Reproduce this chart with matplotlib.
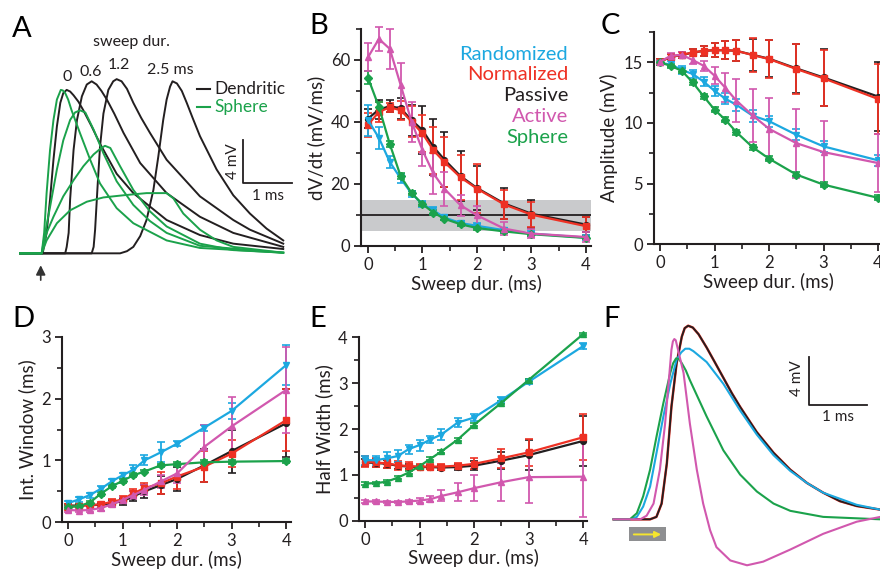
import matplotlib
matplotlib.use("Agg")
import matplotlib.pyplot as plt
from matplotlib.patches import Rectangle
from matplotlib.ticker import MultipleLocator

plt.rcParams['font.family'] = ['Lato', 'DejaVu Sans']

W, H = 880, 573
DARK = '#231F20'
CYAN = '#1CA8E0'
RED = '#EE3124'
MAG = '#D158AE'
GREEN = '#1BA24B'

# sweep durations (ms)
sweep = [0, 0.2, 0.4, 0.6, 0.8, 1.0, 1.2, 1.4, 1.7, 2.0, 2.5, 3.0, 4.0]

# B: dV/dt (mV/ms)
b_rand = [40.6, 34.9, 27.1, 21.8, 16.9, 13.5, 11.5, 9.2, 7.4, 6.5, 5.1, 4.0, 2.7]
b_rand_err = [5, 3.5, 2, 1.5, 1, 1, 1.2, 0.8, 0.8, 0.8, 0.8, 0.8, 0.8]
b_norm = [39.0, 43.3, 44.7, 43.8, 40.1, 36.3, 30.9, 27.1, 22.1, 18.5, 13.4, 10.1, 6.4]
b_norm_err = [3.8, 3.2, 1.5, 3, 5, 6, 7.6, 8, 7.2, 8, 4.8, 4, 3]
b_pass = [41.1, 44.0, 45.1, 44.4, 40.6, 37.4, 32.0, 27.9, 22.5, 18.7, 13.7, 10.4, 6.9]
b_pass_err = [3, 3, 2, 3.5, 5, 7.7, 9, 9, 8, 7, 5, 4.6, 2.5]
b_act = [60.9, 66.8, 63.6, 51.9, 40.1, 30.9, 23.4, 18.5, 13.1, 9.9, 5.6, 4.0, 2.9]
b_act_err = [4.5, 4, 6.5, 7, 6.5, 5, 6.5, 5.5, 3.5, 3, 2, 1.5, 1.5]
b_sph = [54.3, 44.9, 32.9, 22.5, 17.1, 13.5, 10.8, 8.8, 7.0, 5.8, 4.7, 3.8, 2.6]
b_sph_err = [2, 1.5, 1, 1, 0.8, 0.7, 0.7, 0.5, 0.5, 0.5, 0.5, 0.5, 0.5]

# C: amplitude (mV)
c_rand = [14.94, 14.83, 14.37, 14.04, 13.41, 12.65, 12.0, 11.5, 10.6, 10.15, 9.03, 8.07, 6.92]
c_rand_err = [0.2, 0.25, 0.3, 0.3, 0.35, 0.4, 0.45, 0.5, 0.5, 0.45, 0.45, 0.45, 0.45]
c_norm = [15.05, 15.46, 15.62, 15.81, 15.95, 16.0, 16.0, 15.95, 15.6, 15.27, 14.45, 13.68, 11.98]
c_norm_err = [0.2, 0.2, 0.25, 0.3, 0.4, 0.6, 0.75, 0.85, 1.4, 1.6, 2.1, 2.3, 2.9]
c_pass = [15.05, 15.45, 15.6, 15.8, 15.95, 16.0, 16.0, 15.95, 15.62, 15.3, 14.5, 13.75, 12.18]
c_pass_err = [0.2, 0.2, 0.25, 0.3, 0.4, 0.6, 0.75, 0.85, 1.3, 1.55, 2.05, 2.35, 2.85]
c_act = [15.05, 15.54, 15.62, 15.19, 14.72, 13.9, 12.89, 11.85, 10.62, 9.52, 8.34, 7.6, 6.7]
c_act_err = [0.15, 0.2, 0.2, 0.3, 0.4, 0.7, 1.2, 1.8, 2.2, 2.5, 2.85, 2.6, 2.4]
c_sph = [15.0, 14.7, 14.3, 13.35, 12.2, 11.1, 10.26, 9.25, 8.0, 7.06, 5.75, 4.92, 3.83]
c_sph_err = [0.2] * 13

# D: integration window (ms)
d_rand = [0.31, 0.37, 0.44, 0.54, 0.66, 0.76, 0.85, 1.0, 1.13, 1.27, 1.53, 1.80, 2.54]
d_rand_err = [0.04, 0.04, 0.04, 0.04, 0.04, 0.04, 0.08, 0.08, 0.16, 0.04, 0.05, 0.13, 0.32]
d_norm = [0.25, 0.26, 0.28, 0.29, 0.33, 0.37, 0.47, 0.55, 0.63, 0.74, 0.9, 1.11, 1.65]
d_norm_err = [0.05, 0.04, 0.04, 0.04, 0.04, 0.05, 0.07, 0.08, 0.18, 0.2, 0.25, 0.22, 0.5]
d_pass = [0.27, 0.27, 0.28, 0.28, 0.31, 0.34, 0.42, 0.5, 0.6, 0.7, 0.92, 1.15, 1.6]
d_pass_err = [0.03, 0.03, 0.03, 0.04, 0.05, 0.06, 0.08, 0.1, 0.15, 0.2, 0.27, 0.35, 0.55]
d_act = [0.2, 0.19, 0.2, 0.23, 0.29, 0.36, 0.44, 0.52, 0.66, 0.79, 1.22, 1.55, 2.14]
d_act_err = [0.04, 0.03, 0.03, 0.04, 0.04, 0.05, 0.07, 0.08, 0.1, 0.15, 0.35, 0.47, 0.7]
d_sph = [0.25, 0.26, 0.32, 0.46, 0.58, 0.67, 0.76, 0.82, 0.92, 0.94, 0.97, 0.98, 0.99]
d_sph_err = [0.03] * 13

# E: half width (ms)
e_rand = [1.32, 1.32, 1.36, 1.41, 1.56, 1.65, 1.77, 1.88, 2.14, 2.25, 2.63, 3.03, 3.81]
e_rand_err = [0.1, 0.1, 0.13, 0.13, 0.1, 0.12, 0.08, 0.12, 0.1, 0.08, 0.06, 0.05, 0.06]
e_norm = [1.29, 1.27, 1.25, 1.21, 1.19, 1.18, 1.18, 1.18, 1.2, 1.24, 1.36, 1.49, 1.82]
e_norm_err = [0.12, 0.1, 0.1, 0.1, 0.08, 0.05, 0.05, 0.05, 0.06, 0.12, 0.2, 0.3, 0.5]
e_pass = [1.27, 1.26, 1.24, 1.2, 1.18, 1.17, 1.17, 1.16, 1.17, 1.2, 1.31, 1.43, 1.74]
e_pass_err = [0.08, 0.08, 0.08, 0.07, 0.06, 0.05, 0.05, 0.05, 0.06, 0.1, 0.18, 0.32, 0.55]
e_act = [0.42, 0.42, 0.41, 0.41, 0.42, 0.44, 0.47, 0.54, 0.62, 0.71, 0.84, 0.95, 0.96]
e_act_err = [0.03, 0.03, 0.03, 0.03, 0.03, 0.05, 0.07, 0.12, 0.2, 0.28, 0.42, 0.57, 0.88]
e_sph = [0.81, 0.82, 0.85, 0.94, 1.05, 1.19, 1.35, 1.51, 1.77, 2.09, 2.57, 3.07, 4.07]
e_sph_err = [0.03] * 13

# A: traces, time (ms) and voltage (mV)
a_t_d0 = [-0.42, 0.04, 0.12, 0.19, 0.26, 0.33, 0.40, 0.46, 0.53, 0.60, 0.67, 0.77, 0.87, 1.04, 1.21, 1.55, 1.89, 2.57, 3.25, 3.93, 4.95]
a_v_d0 = [0, 0, 1.9, 5.0, 8.7, 11.8, 14.0, 14.9, 15.2, 15.05, 14.7, 14.1, 13.3, 11.8, 10.2, 7.4, 5.6, 3.1, 1.7, 0.9, 0.4]
a_t_d06 = [-0.42, 0.50, 0.53, 0.57, 0.60, 0.67, 0.74, 0.84, 0.94, 1.04, 1.14, 1.24, 1.35, 1.50, 1.69, 2.03, 2.57, 3.25, 3.93, 4.95]
a_v_d06 = [0, 0, 0.6, 1.9, 5.0, 9.6, 12.4, 14.6, 15.7, 16.0, 15.7, 15.1, 14.3, 13.0, 11.2, 8.4, 5.6, 3.4, 1.9, 0.6]
a_t_d12 = [-0.42, 1.04, 1.08, 1.11, 1.16, 1.21, 1.28, 1.38, 1.48, 1.55, 1.65, 1.76, 1.89, 2.05, 2.23, 2.57, 3.25, 3.93, 4.27, 4.95]
a_v_d12 = [0, 0, 0.6, 2.2, 6.2, 9.9, 13.0, 15.2, 16.0, 16.2, 16.0, 15.3, 14.0, 12.6, 11.2, 8.7, 5.3, 3.1, 2.2, 0.9]
a_t_d25 = [-0.42, 1.62, 1.76, 1.89, 2.03, 2.16, 2.30, 2.40, 2.50, 2.57, 2.64, 2.69, 2.78, 2.88, 2.98, 3.10, 3.25, 3.59, 3.93, 4.27, 4.61, 4.95]
a_v_d25 = [0, 0, 0.2, 0.6, 1.6, 3.1, 5.9, 9.0, 12.4, 14.3, 15.5, 16.0, 15.8, 15.1, 14.0, 12.6, 10.9, 7.8, 5.4, 3.7, 2.3, 1.2]
a_t_s0 = [-0.42, 0.02, 0.07, 0.12, 0.19, 0.26, 0.33, 0.41, 0.45, 0.50, 0.56, 0.63, 0.80, 1.01, 1.21, 1.55, 1.89, 2.57, 3.25, 4.95]
a_v_s0 = [0, 0, 1.9, 5.6, 9.6, 12.4, 14.3, 15.2, 15.15, 14.9, 14.3, 13.3, 11.2, 8.7, 6.5, 4.2, 2.8, 1.2, 0.5, 0.06]
a_t_s06 = [-0.42, 0.02, 0.09, 0.19, 0.33, 0.46, 0.60, 0.70, 0.80, 0.91, 1.08, 1.28, 1.55, 1.89, 2.23, 2.57, 3.25, 4.95]
a_v_s06 = [0, 0, 1.9, 4.3, 7.8, 10.5, 12.4, 13.1, 13.3, 13.1, 11.5, 9.3, 6.7, 4.5, 3.0, 1.9, 0.7, 0.06]
a_t_s12 = [-0.42, 0.02, 0.12, 0.26, 0.46, 0.67, 0.87, 1.08, 1.21, 1.31, 1.42, 1.62, 1.89, 2.23, 2.57, 3.25, 3.93, 4.95]
a_v_s12 = [0, 0, 1.9, 3.4, 5.3, 6.8, 8.1, 9.2, 9.7, 10.0, 9.8, 8.1, 5.9, 3.9, 2.5, 0.9, 0.3, 0.06]
a_t_s25 = [-0.42, 0.02, 0.12, 0.33, 0.60, 0.94, 1.28, 1.69, 2.16, 2.57, 2.71, 2.91, 3.25, 3.59, 3.93, 4.95]
a_v_s25 = [0, 0, 1.2, 2.8, 4.0, 4.8, 5.2, 5.4, 5.6, 5.6, 5.1, 3.7, 2.2, 1.2, 0.6, 0.06]

# F: traces
f_t_black = [-0.27, 0.36, 0.47, 0.56, 0.65, 0.73, 0.82, 0.91, 0.96, 1.02, 1.10, 1.20, 1.34, 1.48, 1.63, 1.78, 1.92, 2.21, 2.50, 2.79, 3.08, 3.36, 3.65, 3.94, 4.35]
f_v_black = [0, 0, 0.2, 1.3, 4.6, 9.3, 12.9, 15.1, 15.8, 16.0, 15.85, 15.3, 14.2, 13.0, 11.7, 10.4, 9.3, 7.2, 5.5, 4.1, 3.0, 2.2, 1.5, 1.1, 0.8]
f_t_cyan = [-0.27, 0.01, 0.13, 0.24, 0.36, 0.47, 0.59, 0.71, 0.82, 0.90, 0.97, 1.04, 1.11, 1.34, 1.63, 1.92, 2.21, 2.50, 2.79, 3.08, 3.36, 3.94, 4.35]
f_v_cyan = [0, 0, 0.2, 1.05, 2.7, 5.45, 8.5, 11.2, 13.2, 13.8, 14.1, 14.1, 13.9, 13.0, 11.2, 9.0, 7.0, 5.3, 4.0, 3.0, 2.2, 1.2, 0.8]
f_t_green = [-0.27, 0.01, 0.13, 0.24, 0.36, 0.47, 0.59, 0.71, 0.76, 0.81, 0.86, 0.91, 0.98, 1.05, 1.34, 1.63, 1.92, 2.21, 2.50, 2.79, 3.36, 4.35]
f_v_green = [0, 0, 0.5, 1.9, 4.1, 6.8, 9.6, 12.1, 12.9, 13.3, 13.25, 12.9, 12.3, 11.5, 8.5, 5.7, 3.7, 2.3, 1.3, 0.7, 0.2, 0]
f_t_mag = [-0.27, 0.19, 0.30, 0.42, 0.53, 0.62, 0.68, 0.73, 0.755, 0.78, 0.805, 0.83, 0.94, 1.05, 1.17, 1.28, 1.40, 1.51, 1.75, 2.04, 2.32, 2.79, 3.36, 3.94, 4.35]
f_v_mag = [0, 0, 0.3, 1.3, 4.1, 7.9, 11.2, 14.0, 14.7, 14.9, 14.8, 14.3, 12.1, 7.9, 4.1, 1.3, -0.9, -2.3, -3.4, -3.8, -3.5, -2.5, -1.2, -0.2, 0.2]


def box(l, t, r, b):
    return [l / W, 1 - b / H, (r - l) / W, (b - t) / H]


def ftext(x, y, s, **kw):
    fig.text(x / W, 1 - y / H, s, **kw)


def style(ax, xlim, ylim, ymaj, ymin, ylabel):
    ax.set_xlim(*xlim)
    ax.set_ylim(*ylim)
    for s in ['top', 'right']:
        ax.spines[s].set_visible(False)
    for s in ['left', 'bottom']:
        ax.spines[s].set_linewidth(1.5)
        ax.spines[s].set_color(DARK)
    ax.xaxis.set_major_locator(MultipleLocator(1))
    ax.xaxis.set_minor_locator(MultipleLocator(0.5))
    ax.yaxis.set_major_locator(MultipleLocator(ymaj))
    ax.yaxis.set_minor_locator(MultipleLocator(ymin))
    ax.tick_params(which='major', direction='out', length=5, width=1.3,
                   labelsize=12, colors=DARK, pad=3)
    ax.tick_params(which='minor', direction='out', length=3.5, width=1.2, colors=DARK)
    ax.set_xlabel('Sweep dur. (ms)', fontsize=13.5, color=DARK, labelpad=1)
    ax.set_ylabel(ylabel, fontsize=13.5, color=DARK, labelpad=4)


def series(ax, sets):
    for y, e, c, m in sets:
        ax.errorbar(sweep, y, yerr=e, color=c, marker=m, ms=4.2, lw=1.6,
                    elinewidth=1.3, capsize=2.6, capthick=1.2, clip_on=False)


fig = plt.figure(figsize=(W / 100, H / 100), dpi=100)

# ---- A ----
axA = fig.add_axes(box(10, 60, 295, 290))
axA.set_xlim(-0.627, 5.19)
axA.set_ylim(-3.41, 17.98)
axA.axis('off')
for t, v in [(a_t_d0, a_v_d0), (a_t_d06, a_v_d06), (a_t_d12, a_v_d12), (a_t_d25, a_v_d25)]:
    axA.plot(t, v, color=DARK, lw=1.4, solid_joinstyle='round')
for t, v in [(a_t_s0, a_v_s0), (a_t_s06, a_v_s06), (a_t_s12, a_v_s12), (a_t_s25, a_v_s25)]:
    axA.plot(t, v, color=GREEN, lw=1.4, solid_joinstyle='round')
axA.plot([4.129, 4.129, 5.129], [10.54, 6.54, 6.54], color=DARK, lw=1.3)
axA.annotate('', xy=(0, -0.85), xytext=(0, -2.75),
             arrowprops=dict(arrowstyle='-|>', color='#333333', lw=1.2, mutation_scale=14))
ftext(233, 161, '4 mV', fontsize=11, rotation=90, ha='center', va='center', color=DARK)
ftext(268, 196, '1 ms', fontsize=11, ha='center', va='center', color=DARK)
ftext(131.7, 42, 'sweep dur.', fontsize=11.5, ha='center', va='center', color=DARK)
ftext(66.7, 77.3, '0', fontsize=11.5, ha='center', va='center', color=DARK)
ftext(90.7, 71.7, '0.6', fontsize=11.5, ha='center', va='center', color=DARK)
ftext(119.3, 65, '1.2', fontsize=11.5, ha='center', va='center', color=DARK)
ftext(170, 70, '2.5 ms', fontsize=11.5, ha='center', va='center', color=DARK)
fig.add_artist(plt.Line2D([196.7 / W, 210 / W], [1 - 89.3 / H] * 2, color=DARK, lw=1.5))
fig.add_artist(plt.Line2D([196.7 / W, 210 / W], [1 - 107.3 / H] * 2, color=GREEN, lw=1.5))
ftext(214, 89.3, 'Dendritic', fontsize=12.5, va='center', color=DARK)
ftext(214, 107.3, 'Sphere', fontsize=12.5, va='center', color=GREEN)

# ---- B ----
axB = fig.add_axes(box(361, 29, 591, 246))
style(axB, (-0.128, 4.092), (0, 70), 20, 10, 'dV/dt (mV/ms)')
axB.axhspan(5, 15, color='#C9CACC', zorder=0, lw=0)
axB.axhline(10, color=DARK, lw=1.3, zorder=1)
series(axB, [(b_pass, b_pass_err, DARK, 'o'), (b_norm, b_norm_err, RED, 's'),
             (b_rand, b_rand_err, CYAN, 'v'), (b_sph, b_sph_err, GREEN, 'D'),
             (b_act, b_act_err, MAG, '^')])
for i, (name, c) in enumerate([('Randomized', CYAN), ('Normalized', RED), ('Passive', DARK),
                               ('Active', MAG), ('Sphere', GREEN)]):
    ftext(568, 54 + i * 20.8, name, fontsize=14.5, ha='right', va='center', color=c)

# ---- C ----
axC = fig.add_axes(box(654, 32, 883.5, 244.3))
style(axC, (-0.11, 4.1), (0, 17.5), 5, 2.5, 'Amplitude (mV)')
series(axC, [(c_pass, c_pass_err, DARK, 'o'), (c_norm, c_norm_err, RED, 's'),
             (c_rand, c_rand_err, CYAN, 'v'), (c_sph, c_sph_err, GREEN, 'D'),
             (c_act, c_act_err, MAG, '^')])

# ---- D ----
axD = fig.add_axes(box(62, 336.7, 291, 522.3))
style(axD, (-0.11, 4.09), (0, 3), 1, 0.5, 'Int. Window (ms)')
series(axD, [(d_pass, d_pass_err, DARK, 'o'), (d_norm, d_norm_err, RED, 's'),
             (d_rand, d_rand_err, CYAN, 'v'), (d_sph, d_sph_err, GREEN, 'D'),
             (d_act, d_act_err, MAG, '^')])

# ---- E ----
axE = fig.add_axes(box(359, 337.3, 587, 520.7))
style(axE, (-0.11, 4.07), (0, 4), 1, 0.5, 'Half Width (ms)')
series(axE, [(e_pass, e_pass_err, DARK, 'o'), (e_norm, e_norm_err, RED, 's'),
             (e_rand, e_rand_err, CYAN, 'v'), (e_sph, e_sph_err, GREEN, '^'),
             (e_act, e_act_err, MAG, '^')])

# ---- F ----
axF = fig.add_axes(box(600, 310, 880, 570))
axF.set_xlim(-0.508, 4.345)
axF.set_ylim(-4.19, 17.3)
axF.axis('off')
axF.plot(f_t_black, f_v_black, color=RED, lw=1.8, solid_joinstyle='round')
axF.plot(f_t_black, f_v_black, color=DARK, lw=1.3, solid_joinstyle='round')
axF.plot(f_t_cyan, f_v_cyan, color=CYAN, lw=1.5, solid_joinstyle='round')
axF.plot(f_t_green, f_v_green, color=GREEN, lw=1.5, solid_joinstyle='round')
axF.plot(f_t_mag, f_v_mag, color=MAG, lw=1.5, solid_joinstyle='round')
axF.plot([3.114, 3.114, 4.114], [13.44, 9.45, 9.45], color=DARK, lw=1.3)
axF.add_patch(Rectangle((0, -1.77), 0.636, 1.11, color='#8E8F91', lw=0))
axF.annotate('', xy=(0.6, -1.25), xytext=(0.03, -1.25),
             arrowprops=dict(arrowstyle='-|>', color='#F5E52E', lw=1.4, mutation_scale=9))
ftext(796.7, 378, '4 mV', fontsize=11, rotation=90, ha='center', va='center', color=DARK)
ftext(838, 417, '1 ms', fontsize=11, ha='center', va='center', color=DARK)

# panel letters
for s, x, y in [('A', 12, 37), ('B', 309, 34), ('C', 601, 34),
                ('D', 12, 327), ('E', 309, 327), ('F', 603, 327)]:
    ftext(x, y, s, fontsize=21, ha='left', va='baseline', color='black')

fig.savefig('out.png', dpi=100)
